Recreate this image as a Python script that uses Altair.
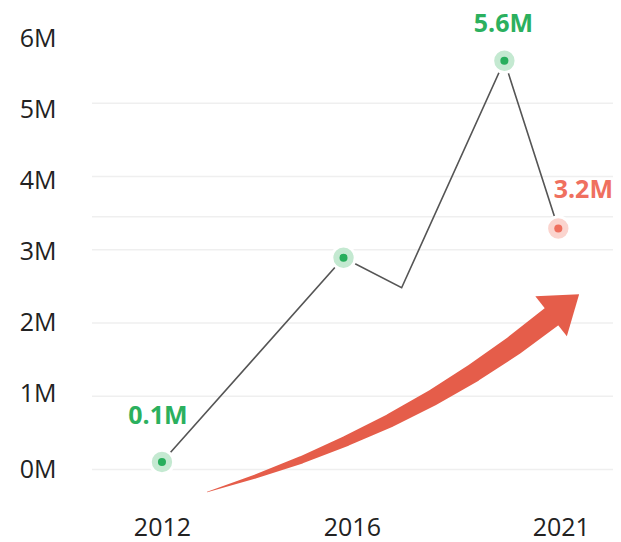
import altair as alt
import pandas as pd

# ---- data ----
tick_pos = [0, 10, 21]
tick_labels = ["2012", "2016", "2021"]

point_pos = [0, 9.56, 12.62, 18.03, 20.87]
point_val = [0.1, 2.89, 2.48, 5.58, 3.29]          # millions
point_marked = [True, True, False, True, True]
point_trend = ["up", "up", "up", "up", "down"]
point_label = ["0.1M", "", "", "5.6M", "3.2M"]

y_ticks = [0, 1, 2, 3, 4, 5, 6]
grid_vals = [0, 1, 2, 3, 4, 5]
ref_vals = [3.45]

arrow_pos = [2.38, 4.90, 7.34, 9.72, 12.03, 14.26, 16.42, 18.52, 20.65]
arrow_val = [-0.31, -0.10, 0.13, 0.39, 0.67, 0.98, 1.32, 1.69, 2.11]
arrow_width = [0.5, 4, 7.5, 10.5, 13.5, 16, 18.5, 20.5, 22]
head_pos = [20.49]
head_val = [2.09]

# ---- tables ----
pts = pd.DataFrame({"pos": point_pos, "val": point_val, "marked": point_marked,
                    "trend": point_trend, "label": point_label})
grid = pd.DataFrame({"val": grid_vals + ref_vals})
arrow = pd.DataFrame({"pos": arrow_pos, "val": arrow_val, "w": arrow_width,
                      "i": list(range(len(arrow_pos)))})
head = pd.DataFrame({"pos": head_pos, "val": head_val})

GREEN, GREEN_T, GREEN_H = "#27ae5c", "#2bb05e", "#c4e9d1"
RED, RED_T, RED_H = "#ef6f5e", "#ef705f", "#fbd4ce"
ARROW = "#e55d4a"
FONT = "Open Sans"

label_expr = " : ".join(
    f"datum.value == {p} ? '{l}'" for p, l in zip(tick_pos[:-1], tick_labels[:-1])
) + f" : '{tick_labels[-1]}'"

xscale = alt.Scale(domain=[-3.684, 23.75], nice=False, zero=False)
yscale = alt.Scale(domain=[-0.5, 6.0], nice=False, zero=False)
xaxis = alt.Axis(values=tick_pos, labelExpr=label_expr, title=None, grid=False,
                 ticks=False, tickSize=0, domain=False, labelPadding=9,
                 labelFontSize=25, labelFont=FONT, labelColor="#222222",
                 labelFlush=False)
yaxis = alt.Axis(values=y_ticks, labelExpr="datum.value + 'M'", title=None,
                 grid=False, ticks=False, tickSize=0, domain=False,
                 labelPadding=36, labelFontSize=25, labelFont=FONT,
                 labelColor="#222222",
                 labelOffset={"condition": [
                     {"test": "datum.value == 6", "value": 8},
                     {"test": "datum.value == 5", "value": 6},
                     {"test": "datum.value == 4", "value": 4},
                     {"test": "datum.value == 3", "value": 2},
                     {"test": "datum.value == 1", "value": -3},
                 ], "value": 0})

X = alt.X("pos:Q", scale=xscale, axis=xaxis)
Y = alt.Y("val:Q", scale=yscale, axis=yaxis)

trend_fill = alt.Scale(domain=["up", "down"], range=[GREEN, RED])
trend_halo = alt.Scale(domain=["up", "down"], range=[GREEN_H, RED_H])

gridlines = alt.Chart(grid).mark_rule(color="#efefef", strokeWidth=1.5).encode(y=Y)

trail = alt.Chart(arrow).mark_trail(color=ARROW).encode(
    x=X, y=Y, size=alt.Size("w:Q", scale=None, legend=None), order="i:Q")

arrowhead = alt.Chart(head).mark_point(
    shape="M0,-1.4L1,0L-1,0Z", filled=True, size=2601, angle=51.8,
    color=ARROW, opacity=1, strokeWidth=0).encode(x=X, y=Y)

line = alt.Chart(pts).mark_line(color="#555555", strokeWidth=1.6).encode(x=X, y=Y)

halo = alt.Chart(pts).transform_filter("datum.marked").mark_circle(
    size=547, opacity=1, stroke="white", strokeWidth=3).encode(
    x=X, y=Y, fill=alt.Fill("trend:N", scale=trend_halo, legend=None))

dot = alt.Chart(pts).transform_filter("datum.marked").mark_circle(
    size=65, opacity=1).encode(
    x=X, y=Y, fill=alt.Fill("trend:N", scale=trend_fill, legend=None))


def lab(text, color, dx, dy):
    return alt.Chart(pts).transform_filter(f"datum.label == '{text}'").mark_text(
        font=FONT, fontSize=25, fontWeight="bold", color=color, dx=dx, dy=dy,
        align="center", baseline="middle").encode(x=X, y=Y, text="label:N")


chart = alt.layer(
    gridlines, trail, arrowhead, line, halo, dot,
    lab("0.1M", GREEN_T, -4, -46),
    lab("5.6M", GREEN_T, -1, -37),
    lab("3.2M", RED_T, 25, -38),
).resolve_scale(fill="independent").properties(
    width=521, height=476,
    autosize=alt.AutoSizeParams(type="none"),
    padding={"left": 84, "top": 22, "right": 0, "bottom": 36},
).configure_view(strokeWidth=0)

chart.save("out.html", embed_options={"renderer": "svg", "actions": False})
